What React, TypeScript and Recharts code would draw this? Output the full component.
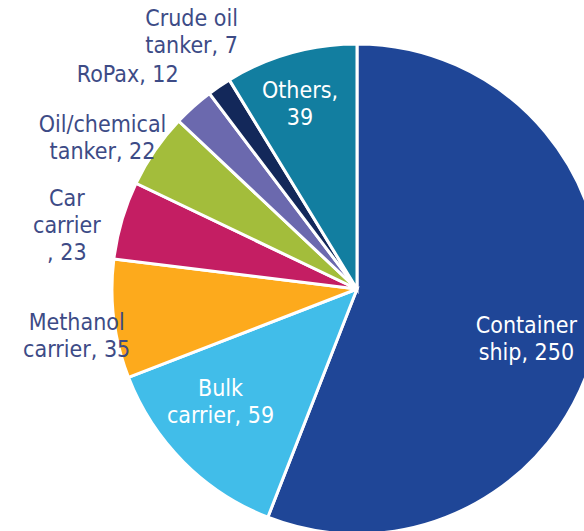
import { Cell, Pie, PieChart } from "recharts"

const categories = [
  "Container ship",
  "Bulk carrier",
  "Methanol carrier",
  "Car carrier",
  "Oil/chemical tanker",
  "RoPax",
  "Crude oil tanker",
  "Others",
]
const vessels = [250, 59, 35, 23, 22, 12, 7, 39]

// how each label is broken into lines
const labelLines = [
  ["Container", "ship, 250"],
  ["Bulk", "carrier, 59"],
  ["Methanol", "carrier, 35"],
  ["Car", "carrier", ", 23"],
  ["Oil/chemical", "tanker, 22"],
  ["RoPax, 12"],
  ["Crude oil", "tanker, 7"],
  ["Others,", "39"],
]

const colors = ["#1f4697", "#41bde9", "#fdaa1c", "#c41e63", "#a3bd3b", "#6b69ae", "#13285a", "#127ea0"]

// label placement: radius factor along the slice middle, then nudge
const labelLayout = [
  { r: 0.72, dx: -4, dy: 17, inside: true },
  { r: 0.7, dx: -15, dy: -9, inside: true },
  { r: 1.12, dx: -8, dy: 13, inside: false },
  { r: 1.2, dx: -8, dy: 19, inside: false },
  { r: 1.2, dx: -12, dy: 15, inside: false },
  { r: 1.2, dx: -33, dy: 4, inside: false },
  { r: 1.2, dx: 0, dy: -14, inside: false },
  { r: 0.8, dx: -4, dy: 3, inside: true },
]

const data = categories.map((name, i) => ({ name, value: vessels[i] }))

const RADIAN = Math.PI / 180
const LINE_H = 27

function renderLabel(props: any) {
  const { cx, cy, midAngle, outerRadius, index } = props
  const lay = labelLayout[index]
  const r = outerRadius * lay.r
  const x = cx + r * Math.cos(-midAngle * RADIAN) + lay.dx
  const y = cy + r * Math.sin(-midAngle * RADIAN) + lay.dy
  const lines = labelLines[index]
  const top = y - ((lines.length - 1) * LINE_H) / 2
  return (
    <text
      x={x}
      y={top}
      textAnchor="middle"
      fill={lay.inside ? "#ffffff" : "#3d4b86"}
      fontSize={23}
      fontFamily="'DejaVu Sans Condensed', 'DejaVu Sans', sans-serif"
    >
      {lines.map((ln, i) => (
        <tspan key={i} x={x} y={top + i * LINE_H} dy="0.35em">
          {ln}
        </tspan>
      ))}
    </text>
  )
}

export default function App() {
  return (
    <div style={{ position: "absolute", left: 0, top: 0, width: 584, height: 531, overflow: "hidden", background: "#fff" }}>
      <PieChart width={584} height={531} margin={{ top: 0, right: 0, bottom: 0, left: 0 }}>
        <Pie
          data={data}
          dataKey="value"
          nameKey="name"
          cx={357}
          cy={289}
          outerRadius={245}
          startAngle={90}
          endAngle={-270}
          stroke="#ffffff"
          strokeWidth={3}
          label={renderLabel}
          labelLine={false}
          isAnimationActive={false}
        >
          {data.map((d, i) => (
            <Cell key={d.name} fill={colors[i]} />
          ))}
        </Pie>
      </PieChart>
    </div>
  )
}
